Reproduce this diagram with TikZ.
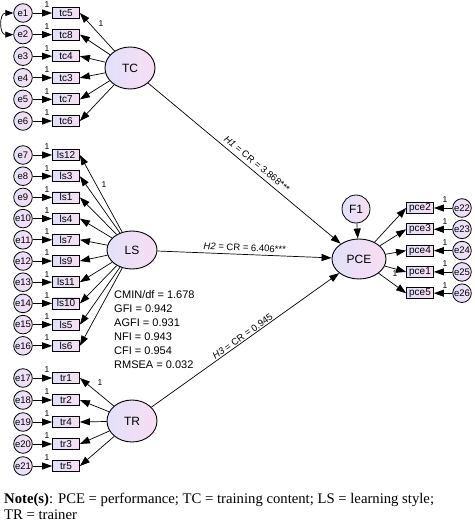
\documentclass[tikz,border=0pt]{standalone}
\usepackage{fontspec}
\setmainfont{Liberation Sans}
\newfontfamily\notefont{Liberation Serif}
\usetikzlibrary{arrows.meta,shapes.geometric}
\definecolor{lavleft}{RGB}{226,224,250}
\definecolor{lavright}{RGB}{247,222,242}

\begin{document}
\begin{tikzpicture}[x=1pt, y=-1pt,
latent/.style={ellipse, draw, line width=.9pt, left color=lavleft, right color=lavright,
  minimum width=50pt, minimum height=42pt, inner sep=0pt, font=\fontsize{12}{12}\selectfont},
errvar/.style={circle, draw, line width=.8pt, left color=lavleft, right color=lavright,
  minimum size=18.6pt, inner sep=0pt, font=\fontsize{9.5}{9.5}\selectfont},
obsvar/.style={rectangle, draw, line width=.8pt, left color=lavleft, right color=lavright,
  minimum width=27pt, minimum height=11pt, inner sep=0pt, font=\fontsize{10}{10}\selectfont},
regpath/.style={-{Triangle[length=10pt,width=7pt]}, line width=.7pt},
covpath/.style={{Triangle[length=8pt,width=6pt]}-{Triangle[length=8pt,width=6pt]}, line width=.7pt},
fixlab/.style={font=\fontsize{8.5}{8.5}\selectfont, inner sep=0pt},
hlabel/.style={sloped, above, font=\fontsize{9.5}{9.5}\selectfont}]

\useasboundingbox (0,0) rectangle (474,524);

%%%%%%%% SETTINGS %%%%%%%%%%%%%
\pgfmathsetmacro{\Ex}{23}
\pgfmathsetmacro{\Bx}{66}
\pgfmathsetmacro{\Rx}{420}
\pgfmathsetmacro{\REx}{462}
%%%%%%%%%%%%%%%%%%%%%%%%%%%

\node[latent] (TC) at (130,68) {TC};
\node[latent, minimum height=38pt] (LS) at (132,250) {LS};
\node[latent] (TR) at (132,421) {TR};
\node[latent, minimum width=54pt, minimum height=40pt] (PCE) at (359,259) {PCE};
\node[errvar, minimum size=28pt, font=\fontsize{12}{12}\selectfont] (F1) at (356,209) {F1};
\draw[regpath] (F1) -- (PCE);

% training content
\foreach \ind [count=\i] in {tc5,tc8,tc4,tc3,tc7,tc6}{
  \pgfmathsetmacro{\yy}{13+(\i-1)*21.6}
  \node[errvar] (e\i) at (\Ex,\yy) {e\i};
  \node[obsvar] (\ind) at (\Bx,\yy) {\ind};
  \draw[regpath] (e\i) -- (\ind);
  \node[fixlab] at (47,\yy-8) {1};
  \draw[regpath] (TC) -- (\ind.east);
}
\node[fixlab] at (101,24) {1};
\draw[covpath] (e1.west) to[out=180, in=180, looseness=1.7] (e2.west);

% learning style
\foreach \ind [count=\i from 7] in {ls12,ls3,ls1,ls4,ls7,ls9,ls11,ls10,ls5,ls6}{
  \pgfmathsetmacro{\yy}{155+(\i-7)*21.2}
  \node[errvar] (e\i) at (\Ex,\yy) {e\i};
  \node[obsvar] (\ind) at (\Bx,\yy) {\ind};
  \draw[regpath] (e\i) -- (\ind);
  \node[fixlab] at (47,\yy-8) {1};
  \draw[regpath] (LS) -- (\ind.east);
}
\node[fixlab] at (104,185) {1};

% trainer
\foreach \ind [count=\i from 17] in {tr1,tr2,tr4,tr3,tr5}{
  \pgfmathsetmacro{\yy}{378+(\i-17)*22}
  \node[errvar] (e\i) at (\Ex,\yy) {e\i};
  \node[obsvar] (\ind) at (\Bx,\yy) {\ind};
  \draw[regpath] (e\i) -- (\ind);
  \node[fixlab] at (47,\yy-8) {1};
  \draw[regpath] (TR) -- (\ind.east);
}
\node[fixlab] at (100,383) {1};

% performance
\foreach \ind [count=\i from 22] in {pce2,pce3,pce4,pce1,pce5}{
  \pgfmathsetmacro{\yy}{208+(\i-22)*21.3}
  \node[errvar] (e\i) at (\REx,\yy) {e\i};
  \node[obsvar] (\ind) at (\Rx,\yy) {\ind};
  \draw[regpath] (e\i) -- (\ind);
  \node[fixlab] at (445,\yy-8) {1};
  \draw[regpath] (PCE) -- (\ind.west);
}
\node[fixlab] at (395,274) {1};

% structural paths
\draw[regpath] (TC) -- node[hlabel, pos=.54, inner sep=4pt] {\textit{H1} = CR = 3.868***} (PCE);
\draw[regpath] (LS) -- node[hlabel, pos=.5, inner sep=3pt] {\textit{H2} = CR = 6.406***} (PCE);
\draw[regpath] (TR) -- node[hlabel, pos=.5, inner sep=1pt] {\textit{H3} = CR = 0.945} (PCE);

\node[anchor=north west, align=left, inner sep=0pt, font=\fontsize{11}{14}\selectfont] (fitidx) at (114,290)
  {CMIN/df = 1.678\\GFI = 0.942\\AGFI = 0.931\\NFI = 0.943\\CFI = 0.954\\RMSEA = 0.032};

\node[anchor=north west, align=left, inner sep=0pt, font=\notefont\fontsize{14.7}{16}\selectfont] (note) at (4,493)
  {\textbf{Note(s)}: PCE = performance; TC = training content; LS = learning style;\\TR = trainer};
\end{tikzpicture}
\end{document}
